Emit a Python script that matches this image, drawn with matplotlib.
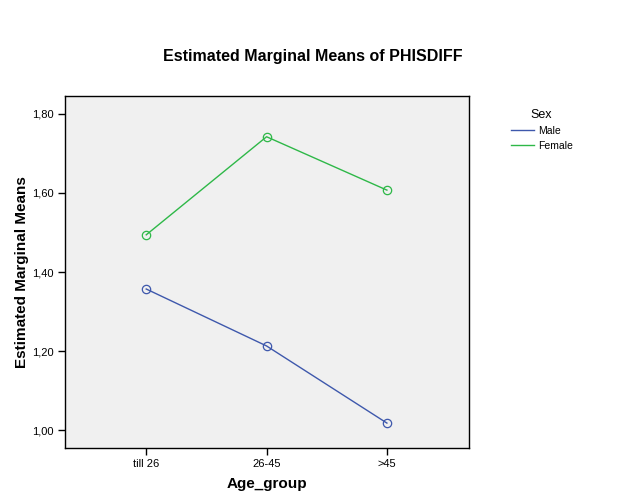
import matplotlib
matplotlib.use("Agg")
import matplotlib.pyplot as plt

plt.rcParams['font.family'] = ['Liberation Sans', 'DejaVu Sans']

# Estimated marginal means
age_groups = ['till 26', '26-45', '>45']
male = [1.357, 1.213, 1.018]
female = [1.494, 1.742, 1.607]
y_ticks = [1.0, 1.2, 1.4, 1.6, 1.8]

male_color = '#3e58ac'
female_color = '#2eb848'

fig = plt.figure(figsize=(6.25, 5), dpi=100)
ax = fig.add_axes([0.104, 0.104, 0.646, 0.704])
ax.set_facecolor('#f0f0f0')

x = range(len(age_groups))
ax.plot(x, male, color=male_color, lw=1, marker='o', mfc='none', ms=6, mew=0.9, label='Male')
ax.plot(x, female, color=female_color, lw=1, marker='o', mfc='none', ms=6, mew=0.9, label='Female')

ax.set_xlim(-0.675, 2.68)
ax.set_ylim(0.955, 1.845)
ax.set_xticks(list(x))
ax.set_xticklabels(age_groups, fontsize=8)
ax.set_yticks(y_ticks)
ax.set_yticklabels([f'{v:.2f}'.replace('.', ',') for v in y_ticks], fontsize=8)
ax.tick_params(direction='out', length=5, width=1, color='black', pad=3)
for s in ax.spines.values():
    s.set_linewidth(1)

ax.set_xlabel('Age_group', fontsize=11, fontweight='bold', labelpad=6)
ax.set_ylabel('Estimated Marginal Means', fontsize=11, fontweight='bold', labelpad=2)
fig.text(0.5, 0.888, 'Estimated Marginal Means of PHISDIFF', ha='center', va='center',
         fontsize=11.5, fontweight='bold')

leg = fig.legend(loc='upper left', bbox_to_anchor=(0.802, 0.80), frameon=False,
                 title='Sex', fontsize=7.5, title_fontsize=9, handlelength=2.2,
                 handletextpad=0.4, labelspacing=0.45)
for h in leg.legend_handles:
    h.set_marker('')

fig.savefig('out.png', dpi=100)
